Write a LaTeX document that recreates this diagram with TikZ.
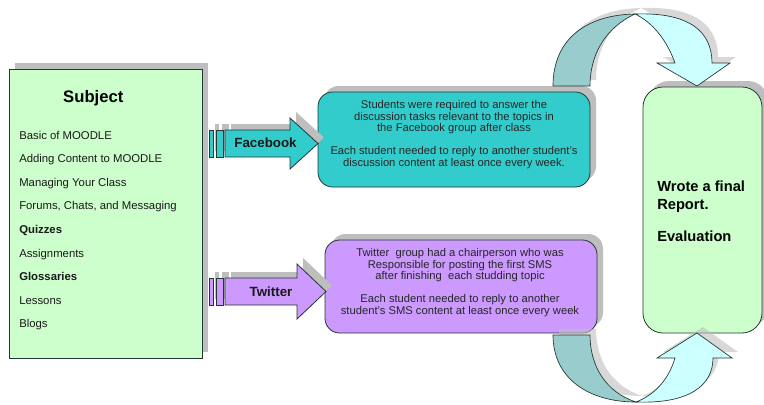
\documentclass[tikz,border=0pt]{standalone}
\usepackage{fontspec}
\setmainfont{Liberation Sans}
\usepackage{tikz}
\usepackage{xcolor}

\definecolor{subjgreen}{RGB}{204,255,204}
\definecolor{fbteal}{RGB}{51,204,204}
\definecolor{twpurple}{RGB}{204,153,255}
\definecolor{ribbondark}{RGB}{153,204,204}
\definecolor{ribbonlight}{RGB}{204,255,255}
\definecolor{shadegray}{RGB}{190,190,190}
\definecolor{edgecol}{RGB}{35,55,50}

\tikzset{
  dropgray/.style={fill=shadegray, draw=none, shift={(6,-6)}},
  ribgray/.style={fill=shadegray, fill opacity=0.6, draw=none, shift={(6,-6)}},
  subjfill/.style={fill=subjgreen, draw=edgecol, line width=0.6pt},
  fbfill/.style={fill=fbteal, draw=edgecol, line width=0.6pt},
  twfill/.style={fill=twpurple, draw=edgecol, line width=0.6pt},
  reportfill/.style={fill=subjgreen, draw=edgecol, line width=0.6pt},
  ribback/.style={fill=ribbondark, draw=edgecol, line width=0.5pt},
  ribfront/.style={fill=ribbonlight, draw=edgecol, line width=0.5pt},
  itemtext/.style={anchor=base west, inner sep=0pt, font=\fontsize{8.5}{10}\selectfont, text=black!90},
  arrowlab/.style={anchor=base, inner sep=0pt, font=\bfseries\fontsize{10}{12}\selectfont, text=black!90},
  boxtext/.style={align=center, inner sep=0pt, font=\fontsize{8.4}{8.7}\selectfont, text=black!85}
}

\begin{document}
\begin{tikzpicture}[x=0.75pt,y=0.75pt,yscale=-1,xscale=1]
\fill[white] (0,0) rectangle (764,404);
\useasboundingbox (0,0) rectangle (764,404);

%Shape: Rectangle [Subject]
\fill[dropgray] (9,69) rectangle (202,358);
\draw[subjfill] (9,69) rectangle (202,358);

% Text Node
\node (subject) [anchor=base, inner sep=0pt, font=\bfseries\fontsize{12.5}{15}\selectfont] at (93.3,102.7) {Subject};
\foreach \lbl [count=\i] in {Basic of MOODLE, Adding Content to MOODLE, Managing Your Class, {Forums, Chats, and Messaging}, \textbf{Quizzes}, Assignments, \textbf{Glossaries}, Lessons, Blogs}
  \node (item\i) [itemtext] at (19,{115.4+23.6*\i}) {\lbl};

%Shape: Rounded Rectangle [Facebook box]
\fill[dropgray, rounded corners=11pt] (318,92) rectangle (590,187);
\draw[fbfill, rounded corners=11pt] (318,92) rectangle (590,187);

%Shape: Rounded Rectangle [Twitter box]
\fill[dropgray, rounded corners=11pt] (325,240) rectangle (597,333);
\draw[twfill, rounded corners=11pt] (325,240) rectangle (597,333);

%Shape: Rounded Rectangle [Report box]
\fill[dropgray, rounded corners=15pt] (643,87) rectangle (762,333);
\draw[reportfill, rounded corners=15pt] (643,87) rectangle (762,333);

%Shape: Right Arrow [Facebook]
\fill[dropgray] (209,130) rectangle (213,157);
\fill[dropgray] (216,130) rectangle (223,157);
\fill[dropgray] (225,130) -- (290,130) -- (290,118) -- (318,143.5) -- (290,169) -- (290,157) -- (225,157) -- cycle;
\draw[fbfill] (209,130) rectangle (213,157);
\draw[fbfill] (216,130) rectangle (223,157);
\draw[fbfill] (225,130) -- (290,130) -- (290,118) -- (318,143.5) -- (290,169) -- (290,157) -- (225,157) -- cycle;

%Shape: Right Arrow [Twitter]
\fill[dropgray] (209,278) rectangle (213,305);
\fill[dropgray] (216,278) rectangle (223,305);
\fill[dropgray] (225,278) -- (297,278) -- (297,264) -- (326,291.5) -- (297,319) -- (297,305) -- (225,305) -- cycle;
\draw[twfill] (209,278) rectangle (213,305);
\draw[twfill] (216,278) rectangle (223,305);
\draw[twfill] (225,278) -- (297,278) -- (297,264) -- (326,291.5) -- (297,319) -- (297,305) -- (225,305) -- cycle;

%Shape: Curved Arrow [top]
\fill[ribgray] (553,86) .. controls (553,40) and (585,15) .. (635,14) .. controls (605,28) and (590,55) .. (590,86) -- cycle;
\fill[ribgray] (635,14) .. controls (690,12) and (712,32) .. (712,63) -- (730,63) -- (697,86) -- (657,63) -- (675,63) .. controls (665,35) and (648,20) .. (635,14) -- cycle;
\draw[ribback] (553,86) .. controls (553,40) and (585,15) .. (635,14) .. controls (605,28) and (590,55) .. (590,86) -- cycle;
\draw[ribfront] (635,14) .. controls (690,12) and (712,32) .. (712,63) -- (730,63) -- (697,86) -- (657,63) -- (675,63) .. controls (665,35) and (648,20) .. (635,14) -- cycle;

%Shape: Curved Arrow [bottom]
\fill[ribgray] (553,335) .. controls (553,378) and (588,402) .. (636,402) .. controls (605,392) and (590,365) .. (590,335) -- cycle;
\fill[ribgray] (636,402) .. controls (690,404) and (713,385) .. (713,358) -- (732,358) -- (697,333) -- (657,358) -- (675,358) .. controls (668,382) and (652,396) .. (636,402) -- cycle;
\draw[ribback] (553,335) .. controls (553,378) and (588,402) .. (636,402) .. controls (605,392) and (590,365) .. (590,335) -- cycle;
\draw[ribfront] (636,402) .. controls (690,404) and (713,385) .. (713,358) -- (732,358) -- (697,333) -- (657,358) -- (675,358) .. controls (668,382) and (652,396) .. (636,402) -- cycle;

% Text Node
\node (fblabel) [arrowlab] at (265.5,147.3) {Facebook};
% Text Node
\node (twlabel) [arrowlab] at (271,296) {Twitter};
% Text Node
\node (fbtext) [boxtext] at (454,134.5) {Students were required to answer the\\ discussion tasks relevant to the topics in\\ the Facebook group after class\\[8.7pt] Each student needed to reply to another student's\\ discussion content at least once every week.};
% Text Node
\node (twtext) [boxtext] at (460,282.5) {Twitter~ group had a chairperson who was\\ Responsible for posting the first SMS\\ after finishing~ each studding topic\\[8.7pt] Each student needed to reply to another\\ student's SMS content at least once every week};
% Text Node
\node (report) [anchor=west, align=left, inner sep=0pt, font=\bfseries\fontsize{11}{13.7}\selectfont] at (657,211) {Wrote a final\\ Report.\\[10pt] Evaluation};

\end{tikzpicture}
\end{document}
